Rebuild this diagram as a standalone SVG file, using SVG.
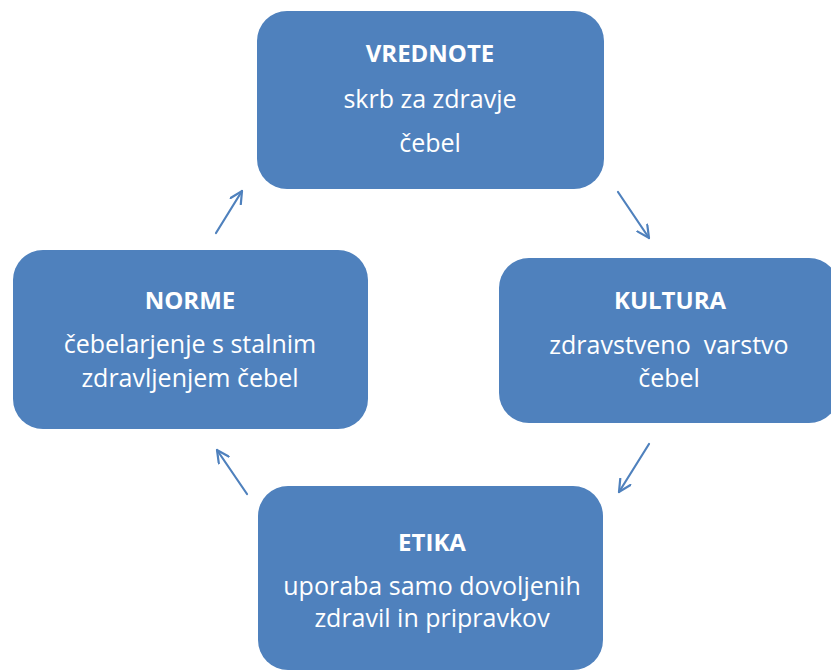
<svg xmlns="http://www.w3.org/2000/svg" width="831" height="671" viewBox="0 0 831 671">
<style>
.box{fill:#4F81BD;}
.t{font-family:"Open Sans","Liberation Sans",sans-serif;fill:#fff;text-anchor:middle;font-size:25px;}
.h{font-weight:bold;font-size:24px;}
.c{fill:none;stroke:#4F81BD;stroke-width:2.2;stroke-linecap:round;}
</style>
<defs>
<marker id="ah" viewBox="0 0 14 14" refX="13" refY="7" markerWidth="14" markerHeight="14" markerUnits="userSpaceOnUse" orient="auto">
<polyline points="1,1 13,7 1,13" fill="none" stroke="#4F81BD" stroke-width="2.2" stroke-linecap="round"/>
</marker>
</defs>
<rect width="831" height="671" fill="#fff"/>
<g id="connectors">
<line class="c" x1="216" y1="233" x2="242" y2="191" marker-end="url(#ah)"/>
<line class="c" x1="618" y1="192" x2="649" y2="238" marker-end="url(#ah)"/>
<line class="c" x1="649" y1="444" x2="619" y2="492" marker-end="url(#ah)"/>
<line class="c" x1="247" y1="494" x2="217" y2="450" marker-end="url(#ah)"/>
</g>
<g id="vrednote">
<rect class="box" x="257" y="11" width="347" height="178" rx="30"/>
<text class="t h" x="430" y="62">VREDNOTE</text>
<text class="t" x="430" y="108">skrb za zdravje</text>
<text class="t" x="430" y="152">čebel</text>
</g>
<g id="kultura">
<rect class="box" x="499" y="258" width="340" height="165" rx="30"/>
<text class="t h" x="670" y="309">KULTURA</text>
<text class="t" x="669" y="354" xml:space="preserve">zdravstveno  varstvo</text>
<text class="t" x="669" y="387">čebel</text>
</g>
<g id="etika">
<rect class="box" x="258" y="486" width="345" height="184" rx="30"/>
<text class="t h" x="432" y="551">ETIKA</text>
<text class="t" x="432" y="595">uporaba samo dovoljenih</text>
<text class="t" x="432" y="627">zdravil in pripravkov</text>
</g>
<g id="norme">
<rect class="box" x="13" y="250" width="355" height="179" rx="30"/>
<text class="t h" x="190" y="309">NORME</text>
<text class="t" x="190" y="353">čebelarjenje s stalnim</text>
<text class="t" x="190" y="387">zdravljenjem čebel</text>
</g>
</svg>
